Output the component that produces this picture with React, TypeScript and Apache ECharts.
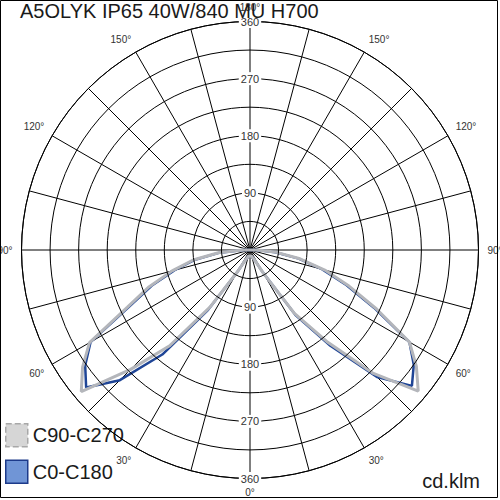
import { useEffect, useRef } from 'react';
import * as echarts from 'echarts';

const FONT = '"Liberation Sans", Arial, sans-serif';

const chartTitle = 'A5OLYK IP65 40W/840 MU H700';
const unitLabel = 'cd.klm';
const grayName = 'C90-C270';
const blueName = 'C0-C180';

// gamma angles (0° = straight down)
const gammaAngles = [0, 5, 10, 15, 20, 25, 30, 35, 40, 45, 50, 55, 60, 65, 70, 75, 80, 85, 90];
// C90 (right half, gray) and C270 (left half, gray), cd/klm
const c90Right = [10, 10, 10, 11, 13, 18, 42, 122, 188, 275, 346, 320, 290, 220, 166, 122, 80, 42, 12];
const c270Left = [10, 10, 10, 11, 13, 18, 40, 110, 197, 266, 347, 322, 292, 213, 169, 127, 91, 50, 12];
// C0 (right half, blue) and C180 (left half, blue), cd/klm
const c0Right = [10, 10, 10, 11, 13, 18, 42, 125, 197, 283, 333, 315, 290, 216, 162, 118, 78, 40, 11];
const c180Left = [10, 10, 10, 11, 13, 18, 40, 115, 215, 290, 337, 317, 290, 209, 165, 123, 88, 48, 11];

const radiusMax = 360;
const radiusStep = 45;
const radiusLabelStep = 90;
const angleStep = 15;
const angleLabelStep = 30;

function buildLoop(right: number[], left: number[]) {
  const pts: number[][] = [];
  gammaAngles.forEach((g, i) => pts.push([right[i], g]));
  for (let i = gammaAngles.length - 1; i >= 0; i--) {
    pts.push([left[i], 360 - gammaAngles[i]]);
  }
  return pts;
}

export default function App() {
  const ref = useRef<HTMLDivElement>(null);
  useEffect(() => {
    const chart = echarts.init(ref.current!, null, { renderer: 'svg' });
    const radiusLabel = {
      show: true,
      margin: 0,
      align: 'center',
      verticalAlign: 'middle',
      showMinLabel: false,
      formatter: (v: number) => (v > 0 && v % radiusLabelStep === 0 ? `{b|${v}}` : ''),
      rich: {
        b: {
          backgroundColor: '#fff',
          padding: [1, 2],
          fontSize: 11,
          color: '#333',
          fontFamily: FONT,
        },
      },
    };
    chart.setOption({
      animation: false,
      backgroundColor: '#fff',
      textStyle: { fontFamily: FONT },
      title: {
        text: chartTitle,
        left: 20,
        top: 1,
        padding: 0,
        z: 10,
        textStyle: { fontSize: 20, fontWeight: 'normal', color: '#1a1a1a', fontFamily: FONT },
      },
      polar: [
        { center: ['50%', '50%'], radius: 228.5 },
        { center: ['50%', '50%'], radius: 228.5 },
      ],
      angleAxis: [
        {
          polarIndex: 0,
          type: 'value',
          min: 0,
          max: 360,
          interval: angleStep,
          startAngle: 270,
          clockwise: false,
          z: 1,
          axisLine: { show: true, lineStyle: { color: '#000', width: 1 } },
          axisTick: { show: false },
          axisLabel: {
            show: true,
            margin: 9,
            align: 'center',
            verticalAlign: 'middle',
            fontSize: 10,
            color: '#333',
            fontFamily: FONT,
            formatter: (v: number) =>
              v % angleLabelStep === 0 && v < 360 ? `${v <= 180 ? v : 360 - v}°` : '',
          },
          splitLine: { show: true, lineStyle: { color: '#000', width: 1 } },
        },
        {
          polarIndex: 1,
          type: 'value',
          min: 0,
          max: 360,
          startAngle: 90,
          clockwise: false,
          show: false,
        },
      ],
      radiusAxis: [
        {
          polarIndex: 0,
          type: 'value',
          min: 0,
          max: radiusMax,
          interval: radiusStep,
          z: 5,
          axisLine: { show: false },
          axisTick: { show: false },
          axisLabel: radiusLabel,
          splitLine: { show: true, lineStyle: { color: '#000', width: 1 } },
        },
        {
          polarIndex: 1,
          type: 'value',
          min: 0,
          max: radiusMax,
          interval: radiusStep,
          z: 5,
          axisLine: { show: false },
          axisTick: { show: false },
          axisLabel: radiusLabel,
          splitLine: { show: false },
        },
      ],
      legend: {
        orient: 'vertical',
        left: 0,
        top: 418,
        padding: 5,
        itemWidth: 22,
        itemHeight: 23,
        itemGap: 12,
        selectedMode: false,
        textStyle: { fontSize: 20, color: '#1a1a1a', fontFamily: FONT },
        data: [
          {
            name: grayName,
            icon: 'rect',
            itemStyle: { color: '#d6d6d6', borderColor: '#a8a8a8', borderWidth: 1.5, borderType: 'dashed' },
          },
          {
            name: blueName,
            icon: 'rect',
            itemStyle: { color: '#7095d6', borderColor: '#1c3a8a', borderWidth: 1.5 },
          },
        ],
      },
      series: [
        {
          name: blueName,
          type: 'line',
          coordinateSystem: 'polar',
          polarIndex: 0,
          symbol: 'none',
          z: 3,
          data: buildLoop(c0Right, c180Left),
          lineStyle: { color: '#1f4596', width: 2.5 },
          itemStyle: { color: '#1f4596' },
        },
        {
          name: grayName,
          type: 'line',
          coordinateSystem: 'polar',
          polarIndex: 0,
          symbol: 'none',
          z: 4,
          data: buildLoop(c90Right, c270Left),
          lineStyle: { color: '#b4b6bb', width: 3 },
          itemStyle: { color: '#b4b6bb' },
        },
      ],
      graphic: [
        {
          type: 'rect',
          silent: true,
          z: 100,
          shape: { x: 0.5, y: 0.5, width: 497, height: 497 },
          style: { fill: 'none', stroke: '#000', lineWidth: 1 },
        },
        {
          type: 'text',
          silent: true,
          z: 100,
          x: 480,
          y: 481,
          style: {
            text: unitLabel,
            fontSize: 20,
            fill: '#1a1a1a',
            fontFamily: FONT,
            align: 'right',
            verticalAlign: 'middle',
          },
        },
      ],
    });
    return () => chart.dispose();
  }, []);
  return (
    <div
      ref={ref}
      style={{ position: 'fixed', left: 0, top: 0, width: 500, height: 500, background: '#fff' }}
    />
  );
}
